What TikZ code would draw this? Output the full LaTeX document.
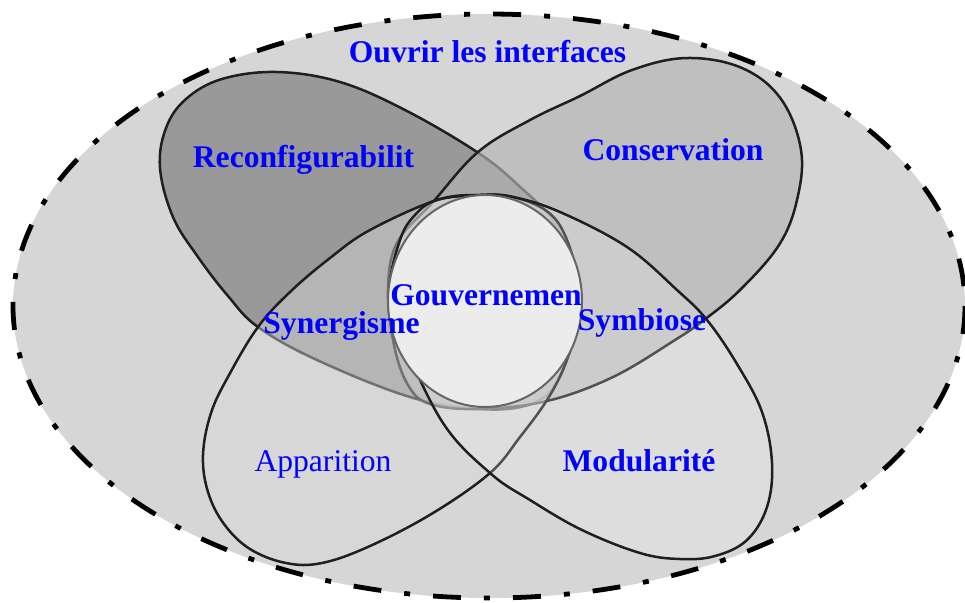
\documentclass[tikz,border=0pt]{standalone}
\usepackage{fontspec}
\setmainfont{Liberation Serif}
\definecolor{bgfill}{gray}{0.839}
\definecolor{rfill}{gray}{0.60}
\definecolor{cfill}{gray}{0.706}
\definecolor{afill}{gray}{0.855}
\definecolor{mfill}{gray}{0.973}
\definecolor{circfill}{gray}{0.925}
\definecolor{edge}{gray}{0.12}
\definecolor{txtblue}{RGB}{0,0,255}
\begin{document}
\begin{tikzpicture}[x=0.5pt,y=-0.5pt,
  lobe/.style={draw=edge, line width=1.25pt, line join=round},
  lbl/.style={text=txtblue, font=\fontsize{15.8}{19}\selectfont\bfseries, inner sep=0pt, anchor=base},
  lblreg/.style={text=txtblue, font=\fontsize{15.8}{19}\selectfont, inner sep=0pt, anchor=base},
  outerborder/.style={draw=black, line width=2.4pt, dash pattern=on 14pt off 11.5pt on 3pt off 11.5pt}]
\useasboundingbox (0,0) rectangle (965,602);
\fill[white] (0,0) rectangle (965,602);
% outer field
\fill[bgfill] (489,306) ellipse [x radius=476, y radius=292];
% Reconfigurabilite lobe
\filldraw[lobe, fill=rfill] plot[smooth cycle, tension=0.62] coordinates {
  (277,72) (340,82) (405,110) (477,152) (518,185) (556,225) (575,280)
  (571,338) (555,385) (528,405) (480,409) (410,397) (317,360) (258,327)
  (228,296) (198,257) (173,217) (160,168) (166,128) (186,99) (222,79)};
% Conservation lobe
\filldraw[lobe, fill=cfill, fill opacity=0.66] plot[smooth cycle, tension=0.62] coordinates {
  (687,58) (742,68) (781,99) (801,150) (797,200) (779,245) (740,290)
  (704,320) (675,340) (613,377) (547,401) (480,409) (430,404) (408,385)
  (394,345) (388,290) (397,243) (433,202) (478,152) (530,120) (580,96) (632,70)};
% Apparition lobe
\filldraw[lobe, fill=afill, fill opacity=0.44] plot[smooth cycle, tension=0.62] coordinates {
  (258,327) (229,375) (211,413) (203,455) (208,492) (224,524) (250,549)
  (286,563) (322,563) (370,546) (433,513) (490,473) (520,437) (547,400)
  (565,365) (575,330) (578,285) (567,240) (548,212) (513,197) (480,195)
  (437,200) (370,230) (330,258) (290,292)};
% Modularite lobe
\filldraw[lobe, fill=mfill, fill opacity=0.23] plot[smooth cycle, tension=0.62] coordinates {
  (707,320) (737,364) (762,412) (772,463) (767,507) (747,540) (715,556)
  (680,559) (640,553) (582,530) (530,500) (490,473) (443,423) (403,340)
  (390,290) (400,240) (415,215) (437,200) (480,195) (513,197) (560,212)
  (627,247) (677,290)};
% Gouvernement circle
\filldraw[fill=circfill, draw=gray!80!black, line width=1pt] (485,301) ellipse [x radius=97, y radius=106];
% outer dash-dot border
\draw[outerborder] (489,306) ellipse [x radius=476, y radius=292];
% labels
\node[lbl] (ouvrir) at (487.5,62) {Ouvrir les interfaces};
\node[lbl] (reconf) at (303.5,167) {Reconfigurabilit};
\node[lbl] (conserv) at (673,160) {Conservation};
\node[lbl] (gouv) at (486,305) {Gouvernemen};
\node[lbl] (syn) at (341.5,333) {Synergisme};
\node[lbl] (sym) at (642,330) {Symbiose};
\node[lblreg] (app) at (323,471) {Apparition};
\node[lbl] (mod) at (639,471) {Modularité};
\end{tikzpicture}
\end{document}
